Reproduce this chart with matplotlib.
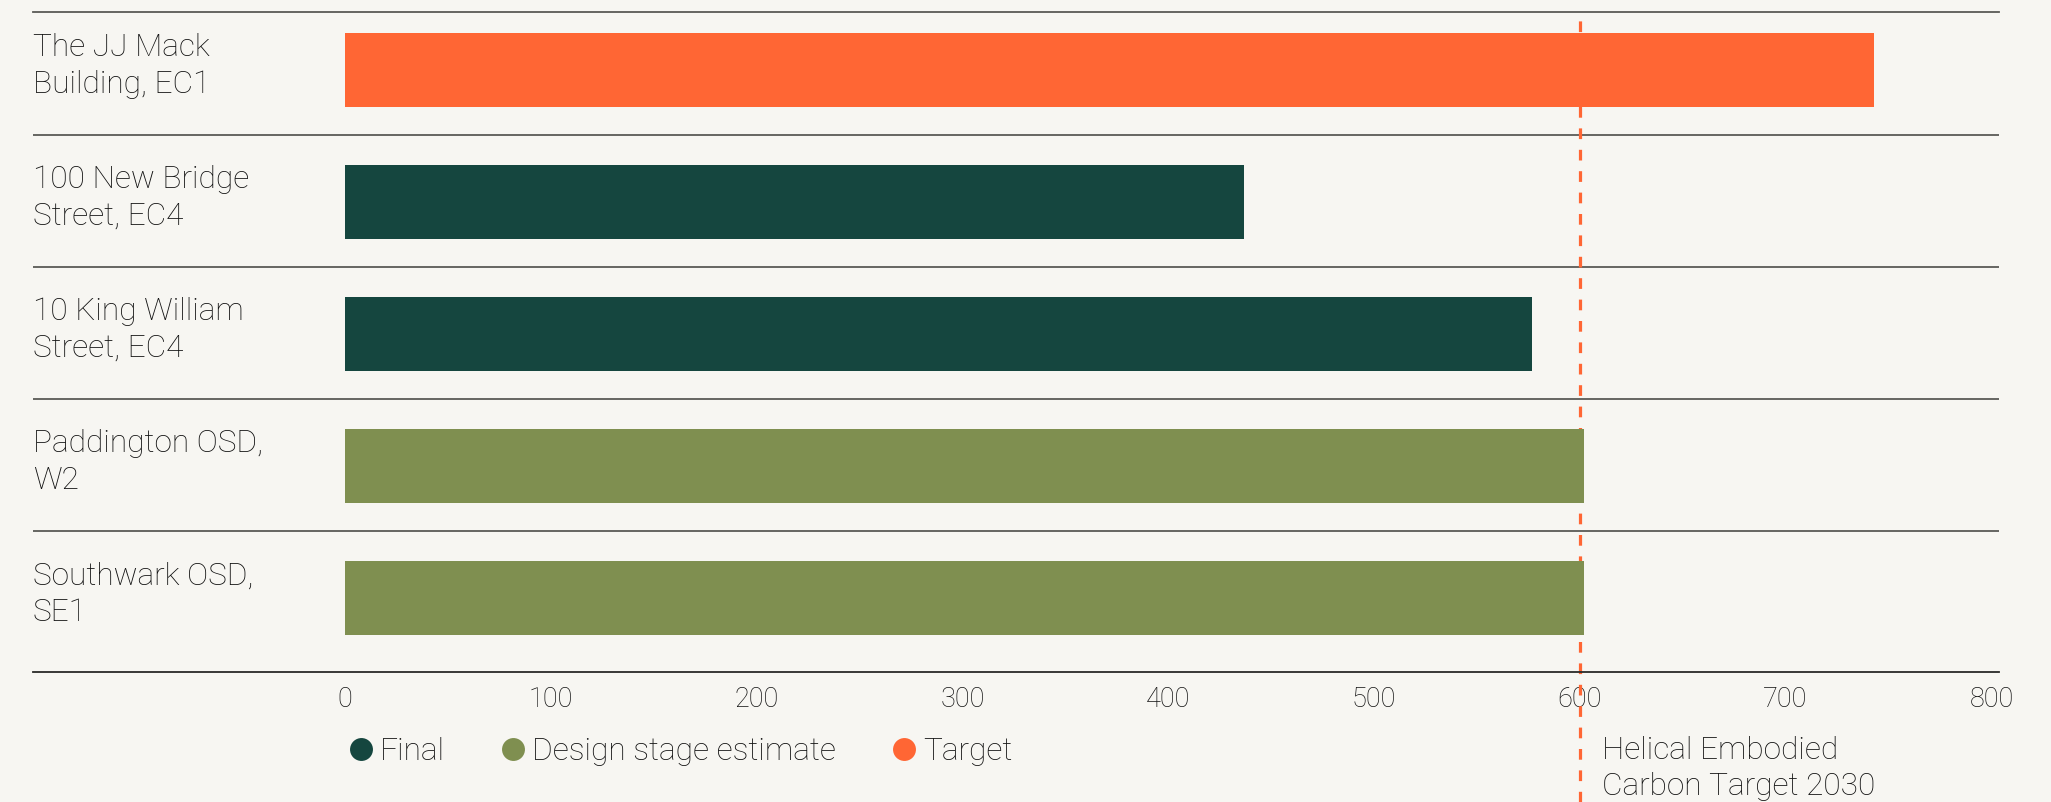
"""
Embodied carbon by building, compared against the 2030 target.
Horizontal bars, one row per building, coloured by stage of the estimate.
"""
import matplotlib.pyplot as plt
from matplotlib.lines import Line2D

BUILDINGS = [
    "The JJ Mack\nBuilding, EC1",
    "100 New Bridge\nStreet, EC4",
    "10 King William\nStreet, EC4",
    "Paddington OSD,\nW2",
    "Southwark OSD,\nSE1",
]
CARBON = [743, 437, 577, 602, 602]
STAGE = ["Target", "Final", "Final", "Design stage estimate", "Design stage estimate"]
TARGET_2030 = 600
TARGET_LABEL = "Helical Embodied\nCarbon Target 2030"
X_TICKS = [0, 100, 200, 300, 400, 500, 600, 700, 800]

STAGE_COLORS = {
    "Final": "#15463F",
    "Design stage estimate": "#7F8F50",
    "Target": "#FF6634",
}
LEGEND_ORDER = ["Final", "Design stage estimate", "Target"]
BG = "#F7F6F2"
TEXT = "#111111"
RULE = "#5A5A56"

plt.rcParams["font.family"] = ["Roboto", "DejaVu Sans"]
plt.rcParams["lines.scale_dashes"] = False

W, H = 2051, 802
fig = plt.figure(figsize=(W / 100, H / 100), dpi=100, facecolor=BG)
ax = fig.add_axes([33 / W, (H - 672) / H, (1999 - 33) / W, (672 - 12) / H])
ax.set_facecolor(BG)

rows = range(len(BUILDINGS))
colors = [STAGE_COLORS[s] for s in STAGE]
ax.barh(rows, CARBON, height=0.56, color=colors, zorder=3)

ax.set_xlim(-151.6, 803.7)
ax.set_ylim(4.56, -0.44)

# separators between buildings
for i in rows[:-1]:
    ax.axhline(i + 0.49, color=RULE, lw=1.3, zorder=1)

for side in ("left", "right"):
    ax.spines[side].set_visible(False)
ax.spines["top"].set_color(RULE)
ax.spines["top"].set_linewidth(1.3)
ax.spines["bottom"].set_color("#2A2A28")
ax.spines["bottom"].set_linewidth(1.3)

ax.set_yticks([])
ax.set_xticks(X_TICKS)
ax.set_xticklabels([str(t) for t in X_TICKS])
ax.tick_params(axis="x", length=0, pad=10, labelsize=19.5, labelcolor=TEXT)
for lbl in ax.get_xticklabels():
    lbl.set_fontweight("light")

# building names at the left edge
for i, name in enumerate(BUILDINGS):
    ax.text(-151.6, i - 0.03, name, ha="left", va="center", fontsize=22.8,
            color=TEXT, fontweight="light", linespacing=1.32)

# 2030 target line runs down past the axis to the note
ax.axvline(TARGET_2030, ymin=-130 / 660, ymax=1, clip_on=False, color="#FF6634",
           lw=2.3, linestyle=(0, (10.7 * 0.72, 10.7 * 0.72)), zorder=2)
ax.annotate(TARGET_LABEL, xy=(TARGET_2030, 0), xycoords=("data", "axes fraction"),
            xytext=(16, -46), textcoords="offset points", ha="left", va="top",
            fontsize=22.8, color=TEXT, fontweight="light", linespacing=1.3,
            annotation_clip=False)

handles = [Line2D([], [], marker="o", linestyle="none", markersize=16.5,
                  markerfacecolor=STAGE_COLORS[s], markeredgewidth=0) for s in LEGEND_ORDER]
leg = fig.legend(handles, LEGEND_ORDER, loc="center left",
                 bbox_to_anchor=(348 / W, (H - 752) / H), ncol=3, frameon=False,
                 fontsize=22.8, handlelength=0.8, handletextpad=0.2,
                 columnspacing=1.75, borderpad=0, borderaxespad=0)
for t in leg.get_texts():
    t.set_color(TEXT)
    t.set_fontweight("light")

fig.savefig("out.png", dpi=100, facecolor=BG)
